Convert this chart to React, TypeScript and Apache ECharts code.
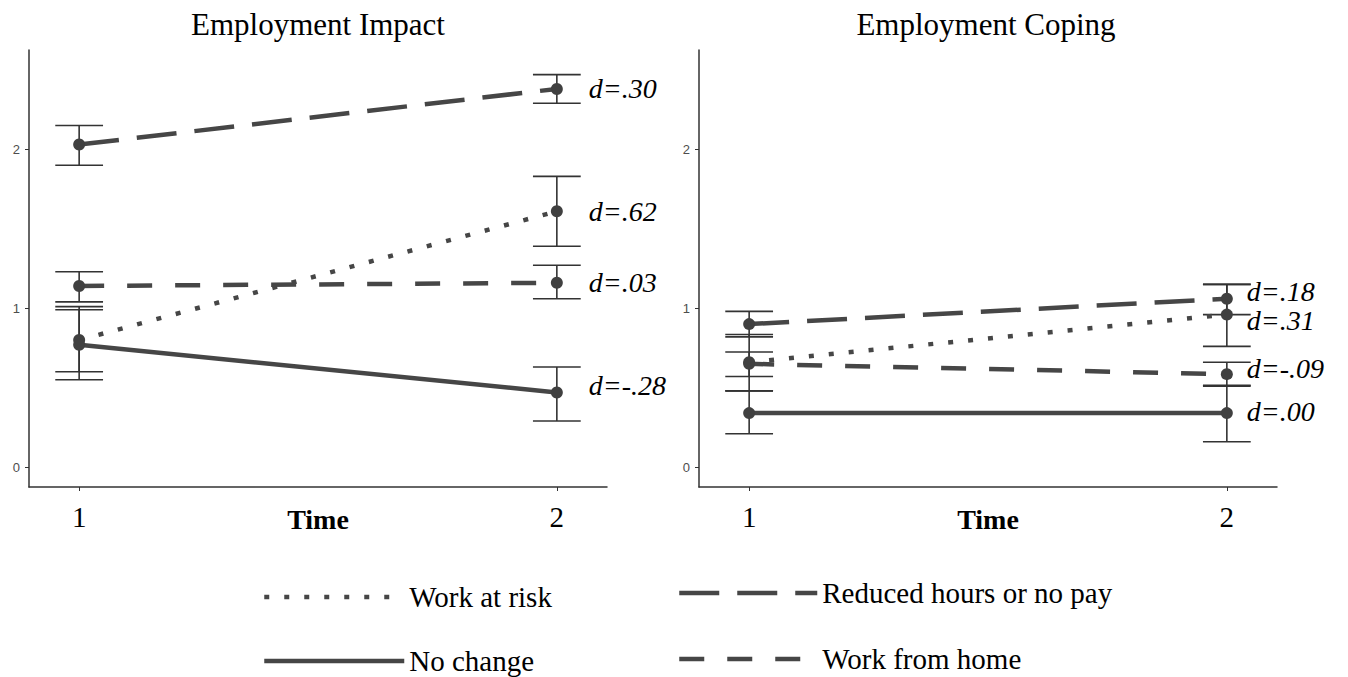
import React, { useEffect, useRef } from 'react';
import * as echarts from 'echarts';

// ---------- data ----------
const timePoints = [1, 2];
const groupNames = ['Work at risk', 'Reduced hours or no pay', 'Work from home', 'No change'];
const yTickValues = [0, 1, 2];
const xTickValues = [1, 2];

// Employment Impact (means and 95% CI at time 1, time 2)
const impactWorkAtRisk = [0.80, 1.61];
const impactWorkAtRiskLow = [0.60, 1.39];
const impactWorkAtRiskHigh = [1.01, 1.83];
const impactReduced = [2.03, 2.38];
const impactReducedLow = [1.90, 2.29];
const impactReducedHigh = [2.15, 2.47];
const impactHome = [1.14, 1.16];
const impactHomeLow = [1.04, 1.06];
const impactHomeHigh = [1.23, 1.27];
const impactNoChange = [0.77, 0.47];
const impactNoChangeLow = [0.55, 0.29];
const impactNoChangeHigh = [0.99, 0.63];
const impactEffects = ['d=.62', 'd=.30', 'd=.03', 'd=-.28'];

// Employment Coping
const copingWorkAtRisk = [0.66, 0.96];
const copingWorkAtRiskLow = [0.48, 0.76];
const copingWorkAtRiskHigh = [0.835, 1.15];
const copingReduced = [0.90, 1.06];
const copingReducedLow = [0.82, 0.96];
const copingReducedHigh = [0.98, 1.15];
const copingHome = [0.65, 0.585];
const copingHomeLow = [0.57, 0.51];
const copingHomeHigh = [0.725, 0.66];
const copingNoChange = [0.34, 0.34];
const copingNoChangeLow = [0.21, 0.16];
const copingNoChangeHigh = [0.48, 0.515];
const copingEffects = ['d=.31', 'd=.18', 'd=-.09', 'd=.00'];

// ---------- styles ----------
const SERIF = 'Liberation Serif';
const SANS = 'Liberation Sans';
const LINE_COLOR = '#464646';
const dashTypes: any[] = ['dotted5', [40, 18], [25, 23], 'solid'];
const resolveDash = (t: any) => (t === 'dotted5' ? [5, 15] : t);

const impactMeans = [impactWorkAtRisk, impactReduced, impactHome, impactNoChange];
const impactLows = [impactWorkAtRiskLow, impactReducedLow, impactHomeLow, impactNoChangeLow];
const impactHighs = [impactWorkAtRiskHigh, impactReducedHigh, impactHomeHigh, impactNoChangeHigh];
const copingMeans = [copingWorkAtRisk, copingReduced, copingHome, copingNoChange];
const copingLows = [copingWorkAtRiskLow, copingReducedLow, copingHomeLow, copingNoChangeLow];
const copingHighs = [copingWorkAtRiskHigh, copingReducedHigh, copingHomeHigh, copingNoChangeHigh];

const impactLabelOffsets = [0, 0, 0, -7];
const copingLabelOffsets = [6, -7, -6, -2];

function buildPanel(
  axisIndex: number,
  means: number[][],
  lows: number[][],
  highs: number[][],
  effects: string[],
  labelDistance: number,
  labelOffsets: number[]
) {
  const series: any[] = [];
  const errData: number[][] = [];
  means.forEach((vals, g) => {
    vals.forEach((v, t) => errData.push([timePoints[t], lows[g][t], highs[g][t]]));
  });
  series.push({
    type: 'custom',
    name: 'ci' + axisIndex,
    xAxisIndex: axisIndex,
    yAxisIndex: axisIndex,
    z: 2,
    silent: true,
    clip: false,
    encode: { x: 0, y: [1, 2] },
    renderItem: (params: any, api: any) => {
      const x = api.value(0);
      const lo = api.value(1);
      const hi = api.value(2);
      const top = api.coord([x, hi]);
      const bot = api.coord([x, lo]);
      const tl = api.coord([x - 0.05, hi]);
      const tr = api.coord([x + 0.05, hi]);
      const bl = api.coord([x - 0.05, lo]);
      const br = api.coord([x + 0.05, lo]);
      const style = { stroke: '#333', lineWidth: 1.6 };
      return {
        type: 'group',
        children: [
          { type: 'line', shape: { x1: top[0], y1: top[1], x2: bot[0], y2: bot[1] }, style },
          { type: 'line', shape: { x1: tl[0], y1: tl[1], x2: tr[0], y2: tr[1] }, style },
          { type: 'line', shape: { x1: bl[0], y1: bl[1], x2: br[0], y2: br[1] }, style },
        ],
      };
    },
    data: errData,
  });
  means.forEach((vals, g) => {
    const data: any[] = vals.map((v, t) => {
      if (t === vals.length - 1) {
        return {
          value: [timePoints[t], v],
          label: {
            show: true,
            position: 'right',
            distance: labelDistance,
            offset: [0, labelOffsets[g]],
            formatter: effects[g],
            fontFamily: SERIF,
            fontStyle: 'italic',
            fontSize: 28,
            color: '#000',
          },
        };
      }
      return [timePoints[t], v];
    });
    const dash = resolveDash(dashTypes[g]);
    series.push({
      type: 'line',
      name: groupNames[g],
      xAxisIndex: axisIndex,
      yAxisIndex: axisIndex,
      z: 3,
      symbol: 'circle',
      symbolSize: 12,
      itemStyle: { color: '#404040' },
      lineStyle: { color: LINE_COLOR, width: 4.5, type: dash, cap: 'butt' },
      data,
    });
  });
  return series;
}

function makeXAxis(gridIndex: number) {
  return {
    type: 'value',
    gridIndex,
    min: 0.895,
    max: 2.105,
    splitLine: { show: false },
    axisLine: { show: true, onZero: false, lineStyle: { color: '#333', width: 1.5 } },
    axisTick: { show: true, length: 4, customValues: xTickValues, lineStyle: { color: '#333' } },
    axisLabel: {
      customValues: xTickValues,
      fontFamily: SERIF,
      fontSize: 29,
      color: '#000',
      margin: 15,
    },
    name: 'Time',
    nameLocation: 'middle',
    nameGap: 18,
    nameMoveOverlap: false,
    nameTextStyle: { fontFamily: SERIF, fontWeight: 'bold', fontSize: 28, color: '#000' },
  };
}

function makeYAxis(gridIndex: number) {
  return {
    type: 'value',
    gridIndex,
    min: -0.125,
    max: 2.625,
    splitLine: { show: false },
    axisLine: { show: true, onZero: false, lineStyle: { color: '#333', width: 1.5 } },
    axisTick: { show: true, length: 4, customValues: yTickValues, lineStyle: { color: '#333' } },
    axisLabel: {
      customValues: yTickValues,
      fontFamily: SANS,
      fontSize: 13,
      color: '#4d4d4d',
      margin: 9,
    },
  };
}

function legendItem(g: number) {
  return {
    name: groupNames[g],
    itemStyle: { opacity: 0 },
    lineStyle: { color: LINE_COLOR, width: 4.5, type: resolveDash(dashTypes[g]), cap: 'butt' },
  };
}

export default function App() {
  const ref = useRef<HTMLDivElement>(null);
  useEffect(() => {
    if (!ref.current) return;
    const chart = echarts.init(ref.current, null, { renderer: 'svg' });
    const option: any = {
      animation: false,
      backgroundColor: '#fff',
      title: [
        {
          text: 'Employment Impact',
          left: 313,
          top: 4,
          textAlign: 'center',
          textStyle: { fontFamily: SERIF, fontSize: 31, fontWeight: 'normal', color: '#000' },
        },
        {
          text: 'Employment Coping',
          left: 981,
          top: 4,
          textAlign: 'center',
          textStyle: { fontFamily: SERIF, fontSize: 31, fontWeight: 'normal', color: '#000' },
        },
      ],
      grid: [
        { left: 29, top: 50, width: 578, height: 437 },
        { left: 699, top: 50, width: 578, height: 437 },
      ],
      xAxis: [makeXAxis(0), makeXAxis(1)],
      yAxis: [makeYAxis(0), makeYAxis(1)],
      legend: [
        {
          orient: 'vertical',
          left: 262,
          top: 582,
          padding: 0,
          height: 95,
          itemWidth: 140,
          itemHeight: 30,
          itemGap: 34,
          selectedMode: false,
          textStyle: { fontFamily: SERIF, fontSize: 29, color: '#000', lineHeight: 30 },
          data: [legendItem(0), legendItem(3)],
        },
        {
          orient: 'vertical',
          left: 677,
          top: 578,
          padding: 0,
          height: 97,
          itemWidth: 138,
          itemHeight: 30,
          itemGap: 36,
          selectedMode: false,
          textStyle: { fontFamily: SERIF, fontSize: 29, color: '#000', lineHeight: 30 },
          data: [legendItem(1), legendItem(2)],
        },
      ],
      series: [
        ...buildPanel(0, impactMeans, impactLows, impactHighs, impactEffects, 26, impactLabelOffsets),
        ...buildPanel(1, copingMeans, copingLows, copingHighs, copingEffects, 14, copingLabelOffsets),
      ],
    };
    chart.setOption(option);
    return () => chart.dispose();
  }, []);
  return (
    <div
      ref={ref}
      style={{ position: 'absolute', left: 0, top: 0, width: 1348, height: 677, background: '#fff' }}
    />
  );
}
